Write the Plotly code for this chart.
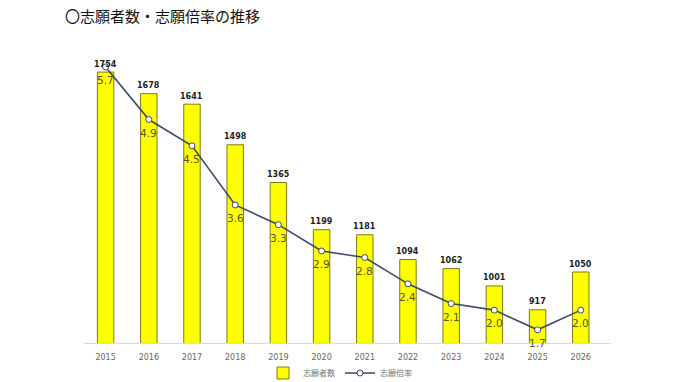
import plotly.graph_objects as go

years = ["2015", "2016", "2017", "2018", "2019", "2020", "2021", "2022", "2023", "2024", "2025", "2026"]
applicants = [1754, 1678, 1641, 1498, 1365, 1199, 1181, 1094, 1062, 1001, 917, 1050]
ratio = [5.7, 4.9, 4.5, 3.6, 3.3, 2.9, 2.8, 2.4, 2.1, 2.0, 1.7, 2.0]

title_text = "〇志願者数・志願倍率の推移"
bar_name = "志願者数"
line_name = "志願倍率"

fig = go.Figure()
fig.add_trace(go.Bar(
    x=years, y=applicants, name=bar_name,
    marker=dict(color="#FFFF00", line=dict(color="#7a7a1a", width=1)),
    width=0.38,
))
fig.add_trace(go.Scatter(
    x=years, y=ratio, name=line_name, yaxis="y2",
    mode="lines+markers",
    line=dict(color="#3b4a66", width=1.6),
    marker=dict(symbol="circle", size=6, color="white", line=dict(color="#3b4a66", width=1)),
    cliponaxis=False,
))

annotations = []
for i, v in enumerate(applicants):
    annotations.append(dict(x=i, y=v, xref="x", yref="y", text=f"<b>{v}</b>",
                            showarrow=False, yshift=8, yanchor="middle",
                            font=dict(family="DejaVu Sans", size=8, color="#222222")))
for i, r in enumerate(ratio):
    annotations.append(dict(x=i, y=r, xref="x", yref="y2", text=f"{r:.1f}",
                            showarrow=False, yshift=-13, yanchor="middle",
                            font=dict(family="DejaVu Sans", size=10.5, color="#55552a")))

fig.update_layout(
    width=680, height=382,
    margin=dict(l=84, r=69, t=40, b=39, autoexpand=False),
    paper_bgcolor="white", plot_bgcolor="white",
    title=dict(text=title_text, x=65/680, xanchor="left", y=1-17/382, yanchor="middle",
               font=dict(family="Noto Sans CJK JP", size=15, color="#111111")),
    showlegend=True,
    legend=dict(orientation="h", x=0.5, xanchor="center", xref="container",
                y=1-373/382, yanchor="middle", yref="container",
                font=dict(family="Noto Sans CJK JP", size=8, color="#777777"),
                itemwidth=30, bgcolor="rgba(0,0,0,0)"),
    xaxis=dict(type="category", range=[-0.5, 11.7], showgrid=False,
               showline=True, linecolor="#d9d9d9", linewidth=1, ticks="",
               ticklabelstandoff=6,
               tickfont=dict(family="DejaVu Sans", size=8, color="#666666")),
    yaxis=dict(range=[800, 1867], showgrid=False, showticklabels=False,
               zeroline=False, showline=False),
    yaxis2=dict(range=[1.5, 6.11], overlaying="y", side="right", showgrid=False,
                showticklabels=False, zeroline=False, showline=False),
    annotations=annotations,
)

fig.write_html("out.html", config={"displayModeBar": False},
               post_script="document.body.style.margin='0';")
